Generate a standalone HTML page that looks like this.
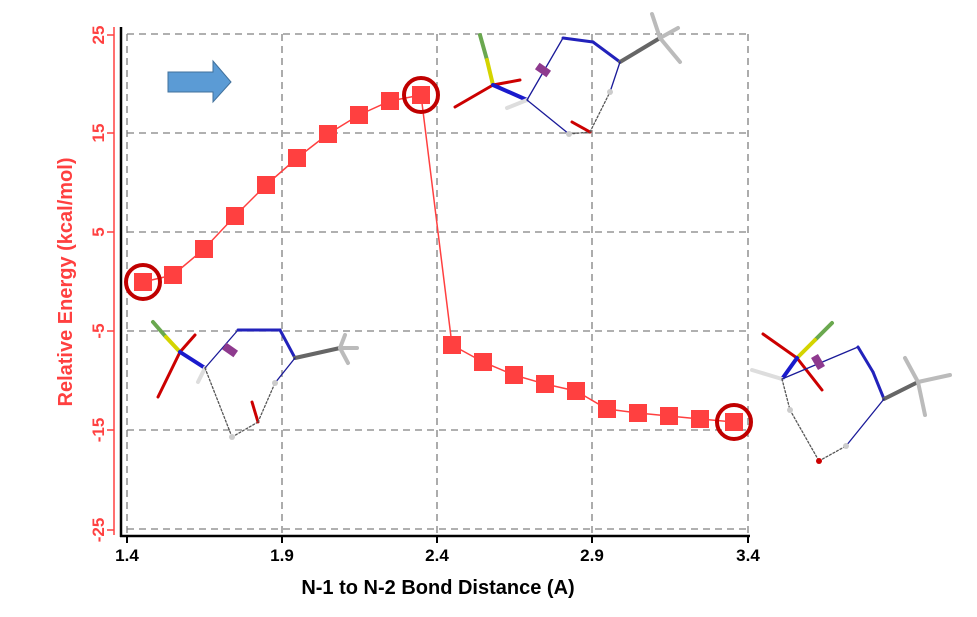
<!DOCTYPE html>
<html><head><meta charset="utf-8"><style>
html,body{margin:0;padding:0;background:#fff}
svg{display:block}
text{font-family:"Liberation Sans","DejaVu Sans",sans-serif}
</style></head><body>
<svg width="977" height="617" viewBox="0 0 977 617" xmlns="http://www.w3.org/2000/svg">
<g stroke="#808080" stroke-width="1.3" stroke-dasharray="7,5" fill="none">
<line x1="127" y1="34" x2="748" y2="34"/>
<line x1="127" y1="133" x2="748" y2="133"/>
<line x1="127" y1="232" x2="748" y2="232"/>
<line x1="127" y1="331" x2="748" y2="331"/>
<line x1="127" y1="430" x2="748" y2="430"/>
<line x1="127" y1="529" x2="748" y2="529"/>
<line x1="127" y1="34" x2="127" y2="536"/>
<line x1="282" y1="34" x2="282" y2="536"/>
<line x1="437" y1="34" x2="437" y2="536"/>
<line x1="592" y1="34" x2="592" y2="536"/>
<line x1="748" y1="34" x2="748" y2="536"/>
</g>
<line x1="121" y1="27" x2="121" y2="537" stroke="#000" stroke-width="2.5"/>
<line x1="120" y1="536" x2="750" y2="536" stroke="#000" stroke-width="2.5"/>
<g stroke="#000" stroke-width="2"><line x1="127" y1="536" x2="127" y2="543"/><line x1="282" y1="536" x2="282" y2="543"/><line x1="437" y1="536" x2="437" y2="543"/><line x1="592" y1="536" x2="592" y2="543"/><line x1="748" y1="536" x2="748" y2="543"/></g>
<line x1="114" y1="27" x2="114" y2="535" stroke="#ff4040" stroke-width="1.5"/>
<g stroke="#ff4040" stroke-width="1.5"><line x1="107" y1="35" x2="114" y2="35"/><line x1="107" y1="133" x2="114" y2="133"/><line x1="107" y1="232" x2="114" y2="232"/><line x1="107" y1="331" x2="114" y2="331"/><line x1="107" y1="430" x2="114" y2="430"/><line x1="107" y1="530" x2="114" y2="530"/></g>
<g fill="#ff4040" font-size="17" font-weight="bold" text-anchor="middle">
<text transform="translate(104,35) rotate(-90)">25</text>
<text transform="translate(104,133) rotate(-90)">15</text>
<text transform="translate(104,232) rotate(-90)">5</text>
<text transform="translate(104,331) rotate(-90)">-5</text>
<text transform="translate(104,430) rotate(-90)">-15</text>
<text transform="translate(104,530) rotate(-90)">-25</text>
<text transform="translate(72,282) rotate(-90)" font-size="20">Relative Energy (kcal/mol)</text>
</g>
<g fill="#000" font-size="17" font-weight="bold" text-anchor="middle">
<text x="127" y="561">1.4</text><text x="282" y="561">1.9</text><text x="437" y="561">2.4</text><text x="592" y="561">2.9</text><text x="748" y="561">3.4</text>
<text x="438" y="594" font-size="20">N-1 to N-2 Bond Distance (A)</text>
</g>
<path d="M168,72 H213 V61 L231,82 L213,102 V92 H168 Z" fill="#5b9bd5" stroke="#41719c" stroke-width="1"/>
<polyline fill="none" stroke="#ff4040" stroke-width="1.5" points="143,282 173,275 204,249 235,216 266,185 297,158 328,134 359,115 390,101 421,95 452,345 483,362 514,375 545,384 576,391 607,409 638,413 669,416 700,419 734,422"/>
<g fill="#ff4040">
<rect x="134" y="273" width="18" height="18"/><rect x="164" y="266" width="18" height="18"/><rect x="195" y="240" width="18" height="18"/><rect x="226" y="207" width="18" height="18"/><rect x="257" y="176" width="18" height="18"/><rect x="288" y="149" width="18" height="18"/><rect x="319" y="125" width="18" height="18"/><rect x="350" y="106" width="18" height="18"/><rect x="381" y="92" width="18" height="18"/><rect x="412" y="86" width="18" height="18"/><rect x="443" y="336" width="18" height="18"/><rect x="474" y="353" width="18" height="18"/><rect x="505" y="366" width="18" height="18"/><rect x="536" y="375" width="18" height="18"/><rect x="567" y="382" width="18" height="18"/><rect x="598" y="400" width="18" height="18"/><rect x="629" y="404" width="18" height="18"/><rect x="660" y="407" width="18" height="18"/><rect x="691" y="410" width="18" height="18"/><rect x="725" y="413" width="18" height="18"/>
</g>
<g fill="none" stroke="#c00000" stroke-width="4">
<circle cx="143" cy="282" r="17"/><circle cx="421" cy="95" r="17"/><circle cx="734" cy="422" r="17"/>
</g>
<g stroke-linecap="round">
<line x1="480" y1="35" x2="487" y2="60" stroke="#6aa84f" stroke-width="4"/>
<line x1="487" y1="60" x2="493" y2="85" stroke="#d4d400" stroke-width="4"/>
<line x1="493" y1="85" x2="520" y2="80" stroke="#c00" stroke-width="3"/>
<line x1="493" y1="85" x2="455" y2="107" stroke="#c00" stroke-width="3"/>
<line x1="493" y1="85" x2="527" y2="100" stroke="#1a1acc" stroke-width="4"/>
<line x1="527" y1="100" x2="507" y2="108" stroke="#ddd" stroke-width="4"/>
<line x1="527" y1="100" x2="563" y2="38" stroke="#1a1a99" stroke-width="1.3"/>
<line x1="563" y1="38" x2="593" y2="42" stroke="#2222bb" stroke-width="3"/>
<line x1="593" y1="42" x2="620" y2="62" stroke="#2222bb" stroke-width="3"/>
<line x1="620" y1="62" x2="660" y2="38" stroke="#666" stroke-width="4"/>
<line x1="660" y1="38" x2="652" y2="14" stroke="#bbb" stroke-width="4"/>
<line x1="660" y1="38" x2="678" y2="28" stroke="#bbb" stroke-width="4"/>
<line x1="660" y1="38" x2="680" y2="62" stroke="#bbb" stroke-width="4"/>
<line x1="527" y1="100" x2="569" y2="134" stroke="#1a1a99" stroke-width="1.3"/>
<line x1="569" y1="134" x2="590" y2="132" stroke="#555" stroke-width="1.3" stroke-dasharray="2,2"/>
<line x1="590" y1="132" x2="572" y2="122" stroke="#c00" stroke-width="3"/>
<line x1="590" y1="132" x2="610" y2="92" stroke="#555" stroke-width="1.3" stroke-dasharray="2,2"/>
<line x1="610" y1="92" x2="620" y2="62" stroke="#1a1a99" stroke-width="1.3"/>
<circle cx="569" cy="134" r="3" fill="#ccc"/><circle cx="610" cy="92" r="3" fill="#ccc"/>
<rect x="536" y="66" width="14" height="8" fill="#8e3a8e" transform="rotate(35 543 70)"/>
</g>
<g stroke-linecap="round">
<line x1="153" y1="322" x2="166" y2="337" stroke="#6aa84f" stroke-width="4"/>
<line x1="166" y1="337" x2="180" y2="352" stroke="#d4d400" stroke-width="4"/>
<line x1="180" y1="352" x2="195" y2="335" stroke="#c00" stroke-width="3"/>
<line x1="180" y1="352" x2="158" y2="397" stroke="#c00" stroke-width="3"/>
<line x1="180" y1="352" x2="205" y2="368" stroke="#1a1acc" stroke-width="4"/>
<line x1="205" y1="368" x2="198" y2="382" stroke="#ddd" stroke-width="4"/>
<line x1="205" y1="368" x2="238" y2="330" stroke="#1a1a99" stroke-width="1.3"/>
<line x1="238" y1="330" x2="280" y2="330" stroke="#2222bb" stroke-width="3"/>
<line x1="280" y1="330" x2="295" y2="358" stroke="#2222bb" stroke-width="3"/>
<line x1="295" y1="358" x2="340" y2="348" stroke="#666" stroke-width="4"/>
<line x1="340" y1="348" x2="345" y2="335" stroke="#bbb" stroke-width="4"/>
<line x1="340" y1="348" x2="357" y2="348" stroke="#bbb" stroke-width="4"/>
<line x1="340" y1="348" x2="348" y2="363" stroke="#bbb" stroke-width="4"/>
<line x1="205" y1="368" x2="232" y2="437" stroke="#555" stroke-width="1.3" stroke-dasharray="2,2"/>
<line x1="232" y1="437" x2="258" y2="422" stroke="#555" stroke-width="1.3" stroke-dasharray="2,2"/>
<line x1="258" y1="422" x2="252" y2="402" stroke="#c00" stroke-width="3"/>
<line x1="258" y1="422" x2="275" y2="383" stroke="#555" stroke-width="1.3" stroke-dasharray="2,2"/>
<line x1="275" y1="383" x2="295" y2="358" stroke="#1a1a99" stroke-width="1.3"/>
<circle cx="232" cy="437" r="3" fill="#ccc"/><circle cx="275" cy="383" r="3" fill="#ccc"/>
<rect x="223" y="346" width="14" height="8" fill="#8e3a8e" transform="rotate(35 230 350)"/>
</g>
<g stroke-linecap="round">
<line x1="832" y1="323" x2="815" y2="340" stroke="#6aa84f" stroke-width="4"/>
<line x1="815" y1="340" x2="797" y2="358" stroke="#d4d400" stroke-width="4"/>
<line x1="797" y1="358" x2="763" y2="334" stroke="#c00" stroke-width="3"/>
<line x1="797" y1="358" x2="822" y2="390" stroke="#c00" stroke-width="3"/>
<line x1="797" y1="358" x2="782" y2="379" stroke="#1a1acc" stroke-width="4"/>
<line x1="782" y1="379" x2="752" y2="370" stroke="#ddd" stroke-width="4"/>
<line x1="782" y1="379" x2="858" y2="347" stroke="#1a1a99" stroke-width="1.3"/>
<line x1="858" y1="347" x2="873" y2="372" stroke="#2222bb" stroke-width="3"/>
<line x1="873" y1="372" x2="884" y2="399" stroke="#2222bb" stroke-width="3"/>
<line x1="884" y1="399" x2="918" y2="382" stroke="#666" stroke-width="4"/>
<line x1="918" y1="382" x2="905" y2="358" stroke="#bbb" stroke-width="4"/>
<line x1="918" y1="382" x2="950" y2="375" stroke="#bbb" stroke-width="4"/>
<line x1="918" y1="382" x2="925" y2="415" stroke="#bbb" stroke-width="4"/>
<line x1="782" y1="379" x2="790" y2="410" stroke="#555" stroke-width="1.3" stroke-dasharray="2,2"/>
<line x1="790" y1="410" x2="819" y2="461" stroke="#555" stroke-width="1.3" stroke-dasharray="2,2"/>
<line x1="819" y1="461" x2="846" y2="446" stroke="#555" stroke-width="1.3" stroke-dasharray="2,2"/>
<line x1="846" y1="446" x2="884" y2="399" stroke="#1a1a99" stroke-width="1.3"/>
<circle cx="819" cy="461" r="3" fill="#c00"/>
<circle cx="790" cy="410" r="3" fill="#ccc"/><circle cx="846" cy="446" r="3" fill="#ccc"/>
<rect x="811" y="358" width="14" height="8" fill="#8e3a8e" transform="rotate(60 818 362)"/>
</g>
</svg>
</body></html>
